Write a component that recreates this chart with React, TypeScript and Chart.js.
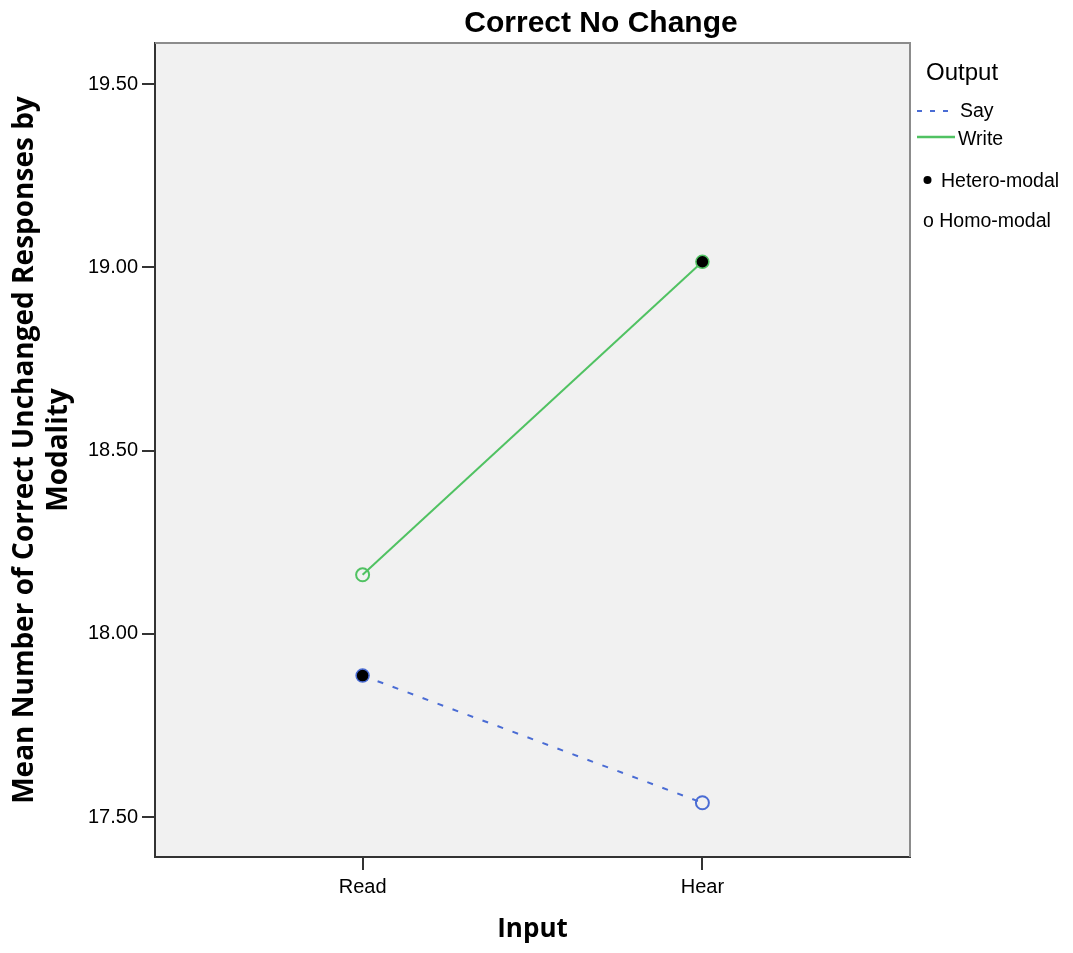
import React, { useEffect, useRef } from "react";
import { Chart, registerables } from "chart.js";

Chart.register(...registerables);

const categories = ["Read", "Hear"];
const sayValues = [17.886, 17.539];
const writeValues = [18.161, 19.015];
const sayModality = ["Hetero", "Homo"];
const writeModality = ["Homo", "Hetero"];
const yTicks = [17.5, 18.0, 18.5, 19.0, 19.5];
const chartTitle = "Correct No Change";
const yTitle = ["Mean Number of Correct Unchanged Responses by", "Modality"];
const xTitle = "Input";
const legendTitle = "Output";
const seriesNames = ["Say", "Write"];
const markerNames = ["Hetero-modal", "Homo-modal"];

const SAY = "#4a6cd4";
const WRITE = "#50c262";
const AXIS = "#333333";
const SANS = "'Liberation Sans', Arial, sans-serif";
const BOLD_SANS = "'Open Sans', 'DejaVu Sans', sans-serif";

export default function App() {
  const ref = useRef<HTMLCanvasElement | null>(null);

  useEffect(() => {
    document.body.style.margin = "0";
    const canvas = ref.current;
    if (!canvas) return;

    const decor = {
      id: "decor",
      beforeDraw(chart: any) {
        const { ctx, chartArea: a } = chart;
        ctx.save();
        ctx.fillStyle = "#ffffff";
        ctx.fillRect(0, 0, chart.width, chart.height);
        ctx.fillStyle = "#f1f1f1";
        ctx.fillRect(a.left, a.top, a.right - a.left, a.bottom - a.top);
        ctx.restore();
      },
      beforeDatasetsDraw(chart: any) {
        const { ctx, chartArea: a } = chart;
        ctx.save();
        ctx.strokeStyle = "#8c8c8c";
        ctx.lineWidth = 2;
        ctx.beginPath();
        ctx.moveTo(a.left, a.top);
        ctx.lineTo(a.right, a.top);
        ctx.lineTo(a.right, a.bottom);
        ctx.stroke();
        ctx.restore();
      },
      afterDraw(chart: any) {
        const { ctx } = chart;
        ctx.save();
        // Title
        ctx.fillStyle = "#000";
        ctx.font = `bold 30px ${SANS}`;
        ctx.textAlign = "center";
        ctx.textBaseline = "alphabetic";
        ctx.fillText(chartTitle, 601, 32);

        // Legend
        ctx.textAlign = "left";
        ctx.font = `24px ${SANS}`;
        ctx.fillText(legendTitle, 926, 80);

        ctx.font = `19.5px ${SANS}`;
        // Say
        ctx.strokeStyle = SAY;
        ctx.lineWidth = 2;
        ctx.setLineDash([5, 8]);
        ctx.beginPath();
        ctx.moveTo(917, 111);
        ctx.lineTo(956, 111);
        ctx.stroke();
        ctx.setLineDash([]);
        ctx.fillText(seriesNames[0], 960, 117);
        // Write
        ctx.strokeStyle = WRITE;
        ctx.lineWidth = 2.5;
        ctx.beginPath();
        ctx.moveTo(917, 137);
        ctx.lineTo(955, 137);
        ctx.stroke();
        ctx.fillText(seriesNames[1], 958, 145);
        // Hetero
        ctx.fillStyle = "#000";
        ctx.beginPath();
        ctx.arc(927.5, 180, 4, 0, Math.PI * 2);
        ctx.fill();
        ctx.fillText(markerNames[0], 941, 187);
        // Homo
        ctx.fillText("o " + markerNames[1], 923, 227);
        ctx.restore();
      },
    };

    const mk = (vals: number[], mods: string[], color: string, dash: number[], label: string) => ({
      label,
      data: categories.map((_, i) => ({ x: i, y: vals[i] })),
      borderColor: color,
      borderWidth: 2,
      borderDash: dash,
      pointRadius: 6.5,
      pointHoverRadius: 6.5,
      pointBackgroundColor: mods.map((m) => (m === "Hetero" ? "#000000" : "rgba(0,0,0,0)")),
      pointBorderColor: color,
      pointBorderWidth: mods.map((m) => (m === "Hetero" ? 1.5 : 2)),
      showLine: true,
      tension: 0,
    });

    const chart = new Chart(canvas, {
      type: "line",
      data: {
        datasets: [
          mk(sayValues, sayModality, SAY, [6, 10], seriesNames[0]),
          mk(writeValues, writeModality, WRITE, [], seriesNames[1]),
        ] as any,
      },
      plugins: [decor],
      options: {
        responsive: false,
        animation: false,
        devicePixelRatio: 1,
        layout: { padding: { top: 43, right: 163, left: 0, bottom: 0 } },
        plugins: {
          legend: { display: false },
          tooltip: { enabled: false },
          title: { display: false },
        },
        scales: {
          x: {
            type: "linear",
            min: -0.611,
            max: 1.611,
            afterBuildTicks: (s: any) => {
              s.ticks = categories.map((_, i) => ({ value: i }));
            },
            afterFit: (s: any) => {
              s.height = 96;
            },
            ticks: {
              color: "#000",
              font: { family: SANS, size: 20 },
              padding: 5,
              maxRotation: 0,
              autoSkip: false,
              callback: (v: any) => categories[Number(v)] ?? "",
            },
            grid: {
              display: true,
              drawOnChartArea: false,
              drawTicks: true,
              tickLength: 13,
              color: AXIS,
              lineWidth: 2,
            },
            border: { display: true, color: AXIS, width: 2 },
            title: {
              display: true,
              text: xTitle,
              color: "#000",
              font: { family: BOLD_SANS, size: 26, weight: "bold", lineHeight: 1.2 },
              padding: { top: 0, bottom: 8 },
            },
          },
          y: {
            type: "linear",
            min: 17.391,
            max: 19.612,
            afterBuildTicks: (s: any) => {
              s.ticks = yTicks.map((v) => ({ value: v }));
            },
            afterFit: (s: any) => {
              s.width = 155;
            },
            ticks: {
              color: "#000",
              font: { family: SANS, size: 20 },
              padding: 4,
              callback: (v: any) => Number(v).toFixed(2),
            },
            grid: {
              display: true,
              drawOnChartArea: false,
              drawTicks: true,
              tickLength: 13,
              color: AXIS,
              lineWidth: 2,
            },
            border: { display: true, color: AXIS, width: 2 },
            title: {
              display: true,
              text: yTitle,
              color: "#000",
              font: { family: BOLD_SANS, size: 28, weight: "bold", lineHeight: 1.18 },
              padding: { top: 9, bottom: 0 },
            },
          },
        },
      } as any,
    });

    return () => chart.destroy();
  }, []);

  return (
    <div style={{ width: 1073, height: 953 }}>
      <canvas ref={ref} width={1073} height={953} style={{ display: "block" }} />
    </div>
  );
}
